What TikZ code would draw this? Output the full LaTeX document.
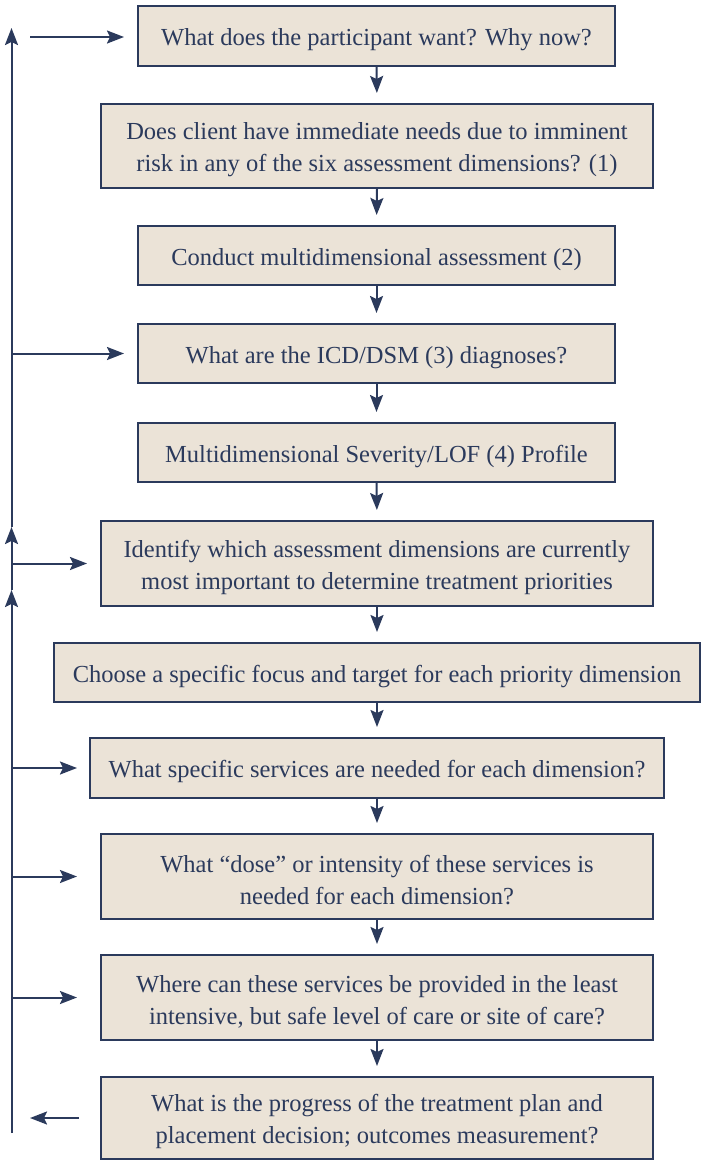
\documentclass[tikz,border=0pt]{standalone}
\usepackage{fontspec}
\setmainfont{Liberation Serif}
\usetikzlibrary{arrows.meta}
\definecolor{navy}{HTML}{2B3A5C}
\definecolor{beige}{HTML}{EBE3D7}
\newcommand{\topstrut}{\rule{0pt}{25pt}}
\begin{document}
\begin{tikzpicture}[x=1pt,y=-1pt,
  box/.style={draw=navy,fill=beige,line width=2pt,text=navy,align=center,
    inner sep=0pt,font=\fontsize{24.5}{32}\selectfont},
  arr/.style={draw=navy,line width=2pt,-{Stealth[length=17pt,width=13pt,inset=3pt]}}]
\useasboundingbox (0,0) rectangle (703,1160);
\node[box,minimum width=477pt,minimum height=60pt] (b1) at (376.5,36) {\topstrut What does the participant want? Why now?};
\node[box,minimum width=552pt,minimum height=84pt] (b2) at (377,146) {\topstrut Does client have immediate needs due to imminent\\risk in any of the six assessment dimensions? (1)};
\node[box,minimum width=477pt,minimum height=59pt] (b3) at (376.5,255.5) {\topstrut Conduct multidimensional assessment (2)};
\node[box,minimum width=477pt,minimum height=59pt] (b4) at (376.5,353.5) {\topstrut What are the ICD/DSM (3) diagnoses?};
\node[box,minimum width=477pt,minimum height=59pt] (b5) at (376.5,452.5) {\topstrut Multidimensional Severity/LOF (4) Profile};
\node[box,minimum width=552pt,minimum height=85pt] (b6) at (377,563.5) {\topstrut Identify which assessment dimensions are currently\\most important to determine treatment priorities};
\node[box,minimum width=646pt,minimum height=59pt] (b7) at (377,672.5) {\topstrut Choose a specific focus and target for each priority dimension};
\node[box,minimum width=574pt,minimum height=60pt] (b8) at (377,768) {\topstrut What specific services are needed for each dimension?};
\node[box,minimum width=552pt,minimum height=85pt] (b9) at (377,876.5) {\topstrut What “dose” or intensity of these services is\\needed for each dimension?};
\node[box,minimum width=552pt,minimum height=85pt] (b10) at (377,997.5) {\topstrut Where can these services be provided in the least\\intensive, but safe level of care or site of care?};
\node[box,minimum width=552pt,minimum height=82pt] (b11) at (377,1118) {\topstrut What is the progress of the treatment plan and\\placement decision; outcomes measurement?};
% down arrows
\foreach \a/\b in {b1/b2,b2/b3,b3/b4,b4/b5,b5/b6,b6/b7,b7/b8,b8/b9,b9/b10,b10/b11}
  \draw[arr,shorten >=10pt] (\a.south) -- (\b.north);
% left feedback line
\coordinate (Lbot) at (11.5,1133);
\coordinate (Lup1) at (11.5,590);
\coordinate (Lup2) at (11.5,527);
\coordinate (Ltop) at (11.5,28);
\draw[arr] (Lbot) -- (Lup1);
\draw[arr] (Lup1) -- (Lup2);
\draw[arr] (Lup2) -- (Ltop);
\coordinate (T1) at (30,37);
\draw[arr,shorten >=13pt] (T1) -- (T1 -| b1.west);
\draw[arr,shorten >=13pt] (Ltop |- b4.west) -- (b4.west);
\draw[arr,shorten >=13pt] (Ltop |- b6.west) -- (b6.west);
\draw[arr,shorten >=12pt] (Ltop |- b8.west) -- (b8.west);
\draw[arr,shorten >=23pt] (Ltop |- b9.west) -- (b9.west);
\draw[arr,shorten >=23pt] (Ltop |- b10.west) -- (b10.west);
\coordinate (B1) at (30,1118);
\draw[arr,shorten <=21pt] (b11.west) -- (B1);
\end{tikzpicture}
\end{document}
